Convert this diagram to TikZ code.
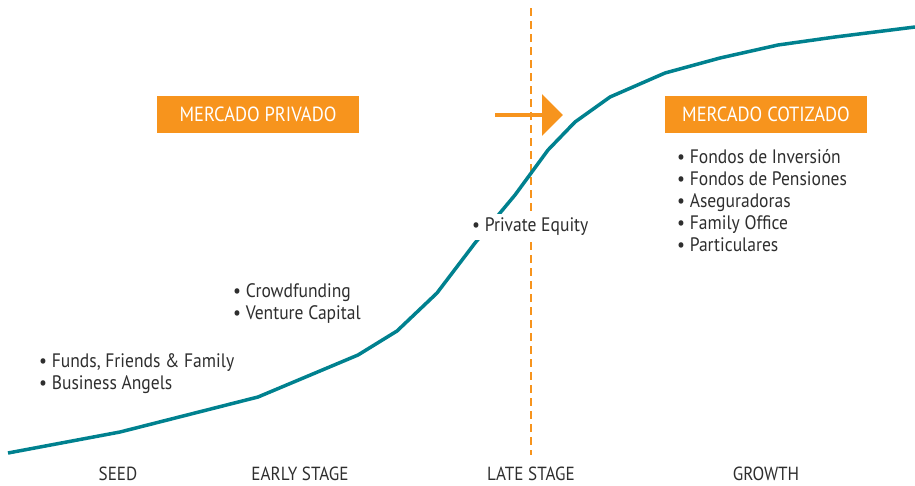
\documentclass[tikz,border=0pt]{standalone}
\usepackage{fontspec}
\setmainfont{PT Sans}[FakeStretch=0.9]
\usetikzlibrary{arrows.meta}
\definecolor{teal}{HTML}{00818F}
\definecolor{naranja}{HTML}{F7941D}
\definecolor{texto}{HTML}{2E2E2E}
\tikzset{
    caja/.style={fill=naranja,text=white,minimum width=202pt,minimum height=37pt,inner sep=0pt,font=\fontsize{20.5}{22}\selectfont},
    lista/.style={anchor=west,align=left,inner sep=0pt,text=texto,font=\fontsize{19.5}{22}\selectfont},
    etapa/.style={text=texto,font=\fontsize{19}{20}\selectfont}
}
\begin{document}
\begin{tikzpicture}[x=1pt,y=-1pt]
            \useasboundingbox (0,0) rectangle (915,485);
            \draw[naranja,line width=2pt,dash pattern=on 8pt off 5pt] (531,8) -- (531,455);
            \draw[teal,line width=3.5pt,line join=round] (8,453) -- (120,432) -- (258,397) -- (358,355) -- (397,331) -- (437,293) -- (475,243) -- (515,195) -- (548,150) -- (575,122) -- (610,97) -- (665,73) -- (720,58) -- (778,45) -- (835,37) -- (915,27);
            \node[caja] (privado) at (258,114) {MERCADO PRIVADO};
            \node[caja] (cotizado) at (766,114) {MERCADO COTIZADO};
            \coordinate (flechaA) at (495,115);
            \coordinate (flechaB) at (563,115);
            \draw[naranja,line width=4pt,-{Triangle[length=21pt,width=41pt]}] (flechaA) -- (flechaB);
            \node[lista] (inversores) at (677,201) {• Fondos de Inversión\\• Fondos de Pensiones\\• Aseguradoras\\• Family Office\\• Particulares};
            \node[lista,fill=white,inner sep=4pt] (pe) at (468,227) {• Private Equity};
            \node[lista] (vc) at (233,304) {• Crowdfunding\\• Venture Capital};
            \node[lista] (fff) at (39,373.5) {• Funds, Friends \& Family\\• Business Angels};
            \node[etapa] (seed) at (118,474) {SEED};
            \node[etapa] (early) at (300,474) {EARLY STAGE};
            \node[etapa] (late) at (531,474) {LATE STAGE};
            \node[etapa] (growth) at (766,474) {GROWTH};
        \end{tikzpicture}
\end{document}
